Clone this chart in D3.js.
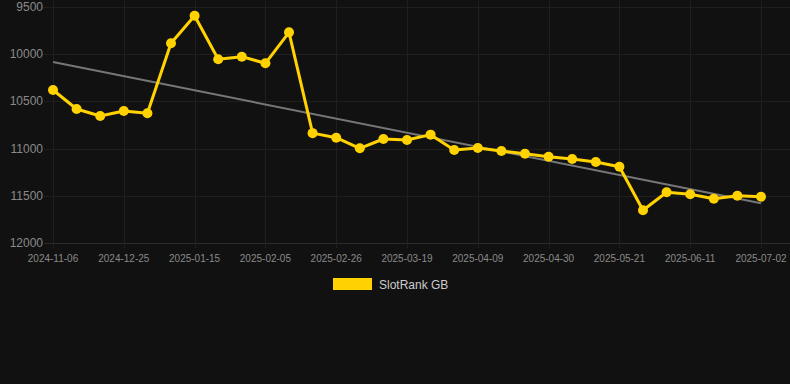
<!DOCTYPE html>
<html><head><meta charset="utf-8">
<script src="https://cdn.jsdelivr.net/npm/d3@7"></script>
<style>html,body{margin:0;padding:0;background:#111111;}svg{display:block;}</style>
</head><body>
<svg id="c" width="790" height="384"></svg>
<script>
const dates = ["2024-11-06","2024-11-27","2024-12-11","2024-12-25","2025-01-01","2025-01-08","2025-01-15","2025-01-22","2025-01-29","2025-02-05","2025-02-12","2025-02-19","2025-02-26","2025-03-05","2025-03-12","2025-03-19","2025-03-26","2025-04-02","2025-04-09","2025-04-16","2025-04-23","2025-04-30","2025-05-07","2025-05-14","2025-05-21","2025-05-28","2025-06-04","2025-06-11","2025-06-18","2025-06-25","2025-07-02"];
const ranks = [10380,10581,10655,10602,10626,9887,9595,10056,10028,10098,9771,10836,10884,10996,10898,10908,10852,11014,10993,11025,11053,11085,11109,11141,11191,11651,11461,11482,11529,11497,11508];
const trendEnds = [10085,11577];
const yTicks = [9500,10000,10500,11000,11500,12000];
const xTickLabels = ["2024-11-06","2024-12-25","2025-01-15","2025-02-05","2025-02-26","2025-03-19","2025-04-09","2025-04-30","2025-05-21","2025-06-11","2025-07-02"];
const seriesName = "SlotRank GB";

const svg = d3.select("#c");
const x = d3.scalePoint().domain(dates).range([53, 761]);
const y = d3.scaleLinear().domain([9500, 12000]).range([6.7, 243.3]);
const gold = "#FFD200";

// horizontal grid
svg.append("g").selectAll("line").data(yTicks).join("line")
  .attr("x1", 44).attr("x2", 790)
  .attr("y1", d => Math.round(y(d)) + 0.5).attr("y2", d => Math.round(y(d)) + 0.5)
  .attr("stroke", d => d === 12000 ? "#2b2b2b" : "#1f1f1f").attr("stroke-width", 1);

// vertical grid
svg.append("g").selectAll("line").data(xTickLabels).join("line")
  .attr("x1", d => Math.round(x(d)) + 0.5).attr("x2", d => Math.round(x(d)) + 0.5)
  .attr("y1", 0).attr("y2", 248)
  .attr("stroke", "#1f1f1f").attr("stroke-width", 1);

// y labels
svg.append("g").selectAll("text").data(yTicks).join("text")
  .attr("x", 43).attr("y", d => y(d) + 4)
  .attr("text-anchor", "end")
  .attr("font-family", "Liberation Sans, Arial, sans-serif").attr("font-size", 12)
  .attr("fill", "#8a8a8a").text(d => d);

// x labels
svg.append("g").selectAll("text").data(xTickLabels).join("text")
  .attr("x", d => x(d)).attr("y", 262)
  .attr("text-anchor", "middle")
  .attr("font-family", "Liberation Sans, Arial, sans-serif").attr("font-size", 10)
  .attr("fill", "#8a8a8a").text(d => d);

// trend line
svg.append("line")
  .attr("x1", x(dates[0])).attr("y1", y(trendEnds[0]))
  .attr("x2", x(dates[dates.length - 1])).attr("y2", y(trendEnds[1]))
  .attr("stroke", "#777777").attr("stroke-width", 2);

// series line
const line = d3.line().x((d, i) => x(dates[i])).y(d => y(d));
svg.append("path").datum(ranks)
  .attr("d", line).attr("fill", "none")
  .attr("stroke", gold).attr("stroke-width", 3).attr("stroke-linejoin", "round");

svg.append("g").selectAll("circle").data(ranks).join("circle")
  .attr("cx", (d, i) => x(dates[i])).attr("cy", d => y(d))
  .attr("r", 5).attr("fill", gold);

// legend
svg.append("rect").attr("x", 333).attr("y", 278).attr("width", 39).attr("height", 12).attr("fill", gold);
svg.append("text").attr("x", 379).attr("y", 288.5)
  .attr("font-family", "Liberation Sans, Arial, sans-serif").attr("font-size", 12)
  .attr("fill", "#cccccc").text(seriesName);
</script>
</body></html>
